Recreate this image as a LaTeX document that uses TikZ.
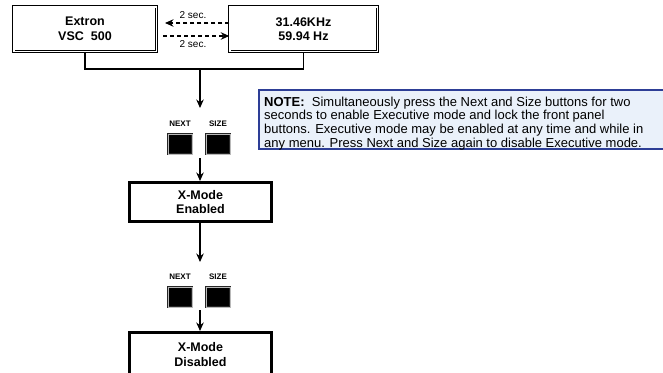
\documentclass[tikz,border=0pt]{standalone}
\usepackage{fontspec}
\setmainfont{Liberation Sans}
\usetikzlibrary{arrows.meta}
\definecolor{noteblue}{RGB}{45,62,150}
\definecolor{notefill}{RGB}{234,241,250}
\begin{document}
\begin{tikzpicture}[x=1pt,y=-1pt,
  boxfont/.style={font=\fontsize{12.5}{14.5}\selectfont\bfseries},
  dispbox/.style={boxfont, draw, double, double distance=1.6pt, line width=0.9pt,
    minimum width=142.6pt, minimum height=44.6pt, align=center, inner sep=0pt},
  modebox/.style={boxfont, draw, line width=3.2pt, minimum width=141.8pt,
    minimum height=38.8pt, align=center, inner sep=0pt},
  btn/.style={fill=black, draw=black!85, double=gray!55, double distance=0.6pt,
    line width=0.7pt, minimum width=24pt, minimum height=20pt, inner sep=0pt},
  btnlabel/.style={font=\fontsize{8}{9}\selectfont\bfseries, inner sep=0pt},
  seclabel/.style={font=\fontsize{10}{11}\selectfont, inner sep=0pt},
  conn/.style={line width=1.2pt},
  arr/.style={conn, -{Stealth[length=8.5pt,width=7.5pt]}},
  dasharr/.style={arr, dash pattern=on 4pt off 3pt},
  notebox/.style={draw=noteblue, line width=2pt, fill=notefill, inner sep=0pt},
  notetext/.style={font=\fontsize{13}{13.8}\selectfont, align=left, inner sep=0pt}
]
\useasboundingbox (0,0) rectangle (663,372);
\clip (0,0) rectangle (663,372);

% top displays
\node[dispbox] (extron) at (85,29) {Extron\\VSC\ \ 500};
\node[dispbox, minimum width=147.6pt] (freq) at (303.5,29) {31.46KHz\\59.94 Hz};
\coordinate (tl) at (165,23);
\coordinate (bl) at (163,36);
\draw[dasharr] (freq.west |- tl) -- (tl);
\draw[dasharr] (bl) -- (freq.west |- bl);
\node[seclabel] (sec1) at (193,15) {2 sec.};
\node[seclabel] (sec2) at (193,44) {2 sec.};

% joining bracket
\coordinate (j) at (200,69);
\draw[conn] (extron.south) |- (j) -| (freq.south);
\coordinate (t1) at (200,108);
\draw[arr] (j) -- (t1);

% first buttons
\node[btnlabel] (n1l) at (180,124) {NEXT};
\node[btnlabel] (s1l) at (218,124) {SIZE};
\node[btn] (n1) at (180,144) {};
\node[btn] (s1) at (218,144) {};
\coordinate (a1) at (200,158);

\node[modebox] (enabled) at (200.5,202) {X-Mode\\Enabled};
\draw[arr] (a1) -- (a1 |- enabled.north);

\coordinate (t2) at (200,262);
\draw[arr] (enabled.south -| t2) -- (t2);

% second buttons
\node[btnlabel] (n2l) at (180,277) {NEXT};
\node[btnlabel] (s2l) at (218,277) {SIZE};
\node[btn] (n2) at (180,297) {};
\node[btn] (s2) at (218,297) {};
\coordinate (a2) at (200,310);

\node[modebox, minimum height=43.8pt] (disabled) at (200.5,354.5) {X-Mode\\Disabled};
\draw[arr] (a2) -- (a2 |- disabled.north);

% note
\node[notebox, anchor=north west, minimum width=450pt, minimum height=59pt] (note) at (258,88.5) {};
\node[notetext, anchor=north west] (notetxt) at (264,96.5)
  {\textbf{NOTE:}\ \ Simultaneously press the Next and Size buttons for two\\
   seconds to enable Executive mode and lock the front panel\\
   buttons. Executive mode may be enabled at any time and while in\\
   any menu. Press Next and Size again to disable Executive mode.};
\end{tikzpicture}
\end{document}
